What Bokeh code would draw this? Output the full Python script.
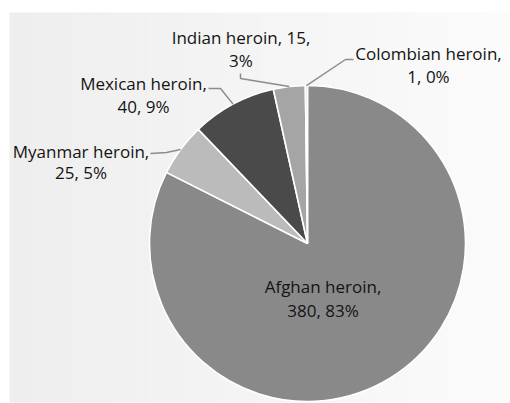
import numpy as np
from bokeh.plotting import figure
from bokeh.models import Range1d
from bokeh.embed import file_html
from bokeh.resources import INLINE
from bokeh.core.properties import value

# ---- data ----
categories = ["Afghan heroin", "Myanmar heroin", "Mexican heroin", "Indian heroin", "Colombian heroin"]
values = [380, 25, 40, 15, 1]
percent_labels = ["83%", "5%", "9%", "3%", "0%"]
colors = ["#898989", "#bbbbbb", "#4a4a4a", "#a5a5a5", "#d9d9d9"]

# ---- layout (page pixel coordinates) ----
W, H = 510, 403
def px(x):
    return x
def py(y):
    return H - y

CX, CY, R = 307, 243, 158
# label centre x and baselines of the two lines
label_x = [322.5, 80.5, 143, 240.5, 428]
label_y1 = [286, 150.7, 83.3, 36.7, 53.3]
label_y2 = [310, 171.7, 106, 59.5, 76]
# which labels put the value on the first line
value_on_first = [False, False, False, True, False]
# leader line bend points (None = inside label)
leaders = [None,
           [(150, 153), (166, 152)],
           [(208, 88), (220, 88)],
           [(240, 73), (240, 78)],
           [(353, 59), (345, 59)]]

p = figure(width=W, height=H, output_backend="svg", toolbar_location=None,
           x_range=Range1d(0, W), y_range=Range1d(0, H), min_border=0)
p.axis.visible = False
p.grid.visible = False
p.outline_line_color = None
p.background_fill_color = "white"
p.border_fill_color = "white"

# background gradient
N = 80
xs = np.linspace(px(9), px(511), N + 1)
lefts, rights, fills = [], [], []
for i in range(N):
    t = i / (N - 1)
    c = int(round(0xee + (0xfb - 0xee) * t))
    lefts.append(xs[i])
    rights.append(xs[i + 1] + 0.6)
    fills.append("#%02x%02x%02x" % (c, c, c))
p.quad(left=lefts, right=rights, bottom=py(402), top=py(12), fill_color=fills, line_color=None)

# pie
total = sum(values)
cum = np.cumsum([0] + values)
start = [np.pi / 2 - 2 * np.pi * cum[i + 1] / total for i in range(len(values))]
end = [np.pi / 2 - 2 * np.pi * cum[i] / total for i in range(len(values))]
mid = [(s + e) / 2 for s, e in zip(start, end)]
p.wedge(x=px(CX), y=py(CY), radius=R, start_angle=start, end_angle=end,
        fill_color=colors, line_color="white", line_width=1.6)

# leader lines
for i, pts in enumerate(leaders):
    if pts is None:
        continue
    ex = CX + R * np.cos(mid[i])
    ey = CY - R * np.sin(mid[i])
    lx = [px(a) for a, b in pts] + [px(ex)]
    ly = [py(b) for a, b in pts] + [py(ey)]
    p.line(lx, ly, line_color="#8c8c8c", line_width=1.5)

# labels
l1, l2 = [], []
for i, name in enumerate(categories):
    if value_on_first[i]:
        l1.append(f"{name}, {values[i]},")
        l2.append(percent_labels[i])
    else:
        l1.append(f"{name},")
        l2.append(f"{values[i]}, {percent_labels[i]}")
tx = [px(v) for v in label_x]
p.text(x=tx, y=[py(v) for v in label_y1], text=l1, text_align="center",
       text_baseline="alphabetic", text_font=value("Open Sans"),
       text_font_size="17px", text_color="#141414")
p.text(x=tx, y=[py(v) for v in label_y2], text=l2, text_align="center",
       text_baseline="alphabetic", text_font=value("Open Sans"),
       text_font_size="17px", text_color="#141414")

open("out.html", "w").write(file_html(p, INLINE))
